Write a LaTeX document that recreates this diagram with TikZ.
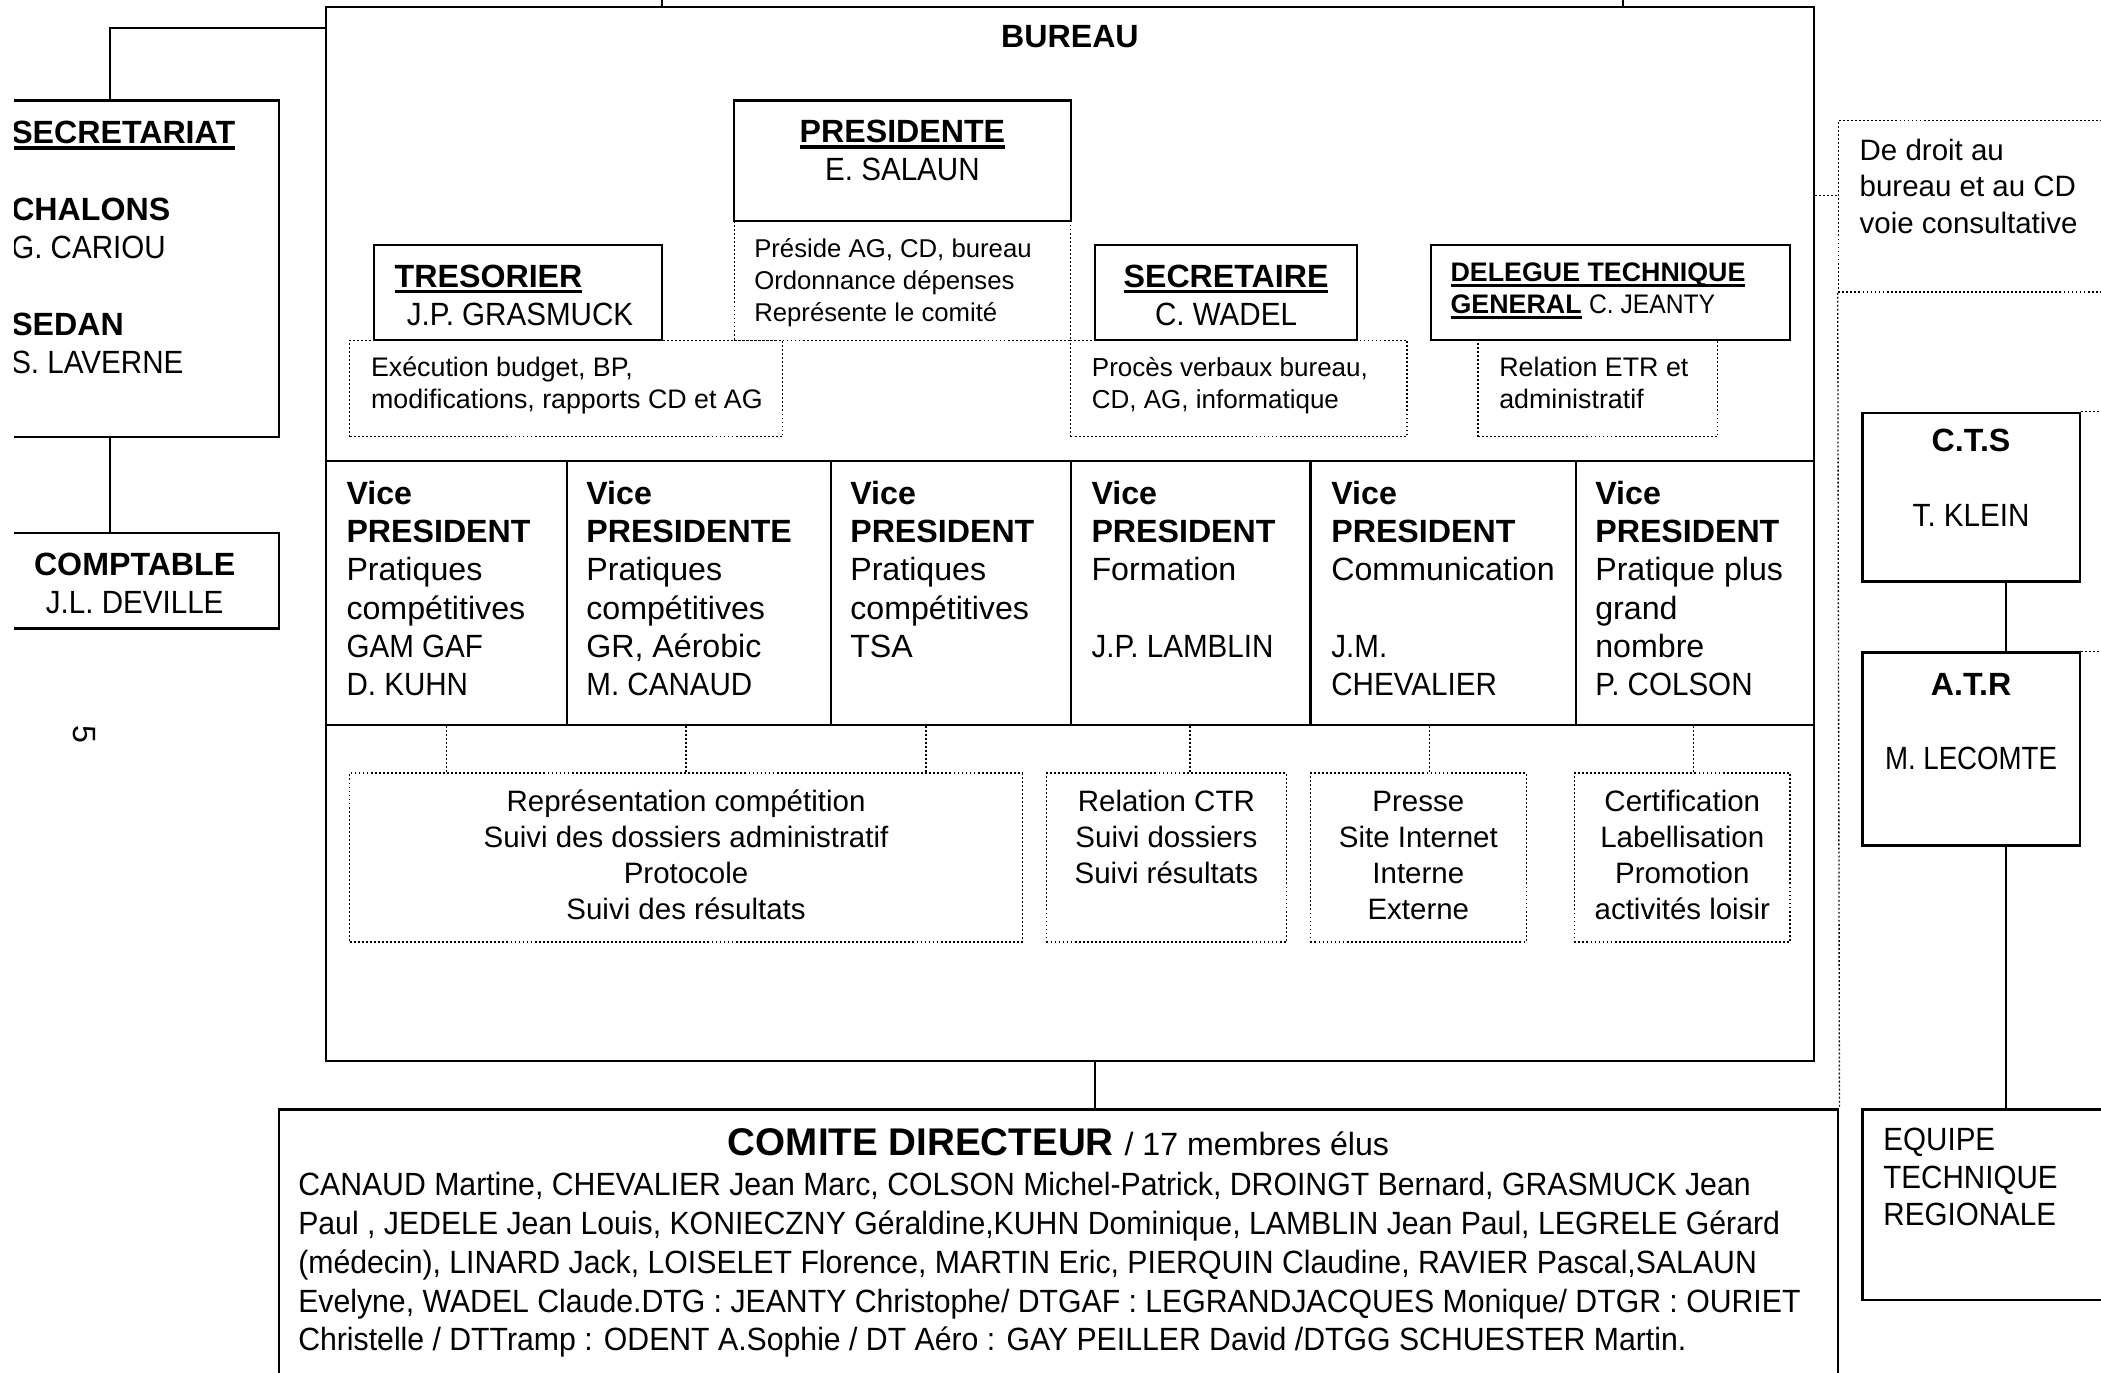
\documentclass[tikz,border=0pt]{standalone}
\usepackage{fontspec}
\setmainfont{Liberation Sans}
\newfontfamily\capfont[FakeStretch=0.92]{Liberation Sans}
\newfontfamily\tightcap[FakeStretch=0.86]{Liberation Sans}
\newfontfamily\listfont[FakeStretch=0.94]{Liberation Sans}
\usetikzlibrary{positioning,fit}
\newcommand{\undl}[1]{\setbox0\hbox{\textbf{#1}}\rlap{\rule[-2.3pt]{\wd0}{1.2pt}}\box0\relax}

\begin{document}
\begin{tikzpicture}[x=0.5pt,y=-0.5pt,
  box/.style={draw, line width=0.8pt, inner sep=0pt},
  dotbox/.style={draw, line width=0.5pt, dash pattern=on 0.7pt off 0.8pt, inner sep=0pt},
  link/.style={line width=0.8pt},
  dotlink/.style={line width=0.5pt, dash pattern=on 0.7pt off 0.8pt},
  txt/.style={inner sep=0pt, align=left, font=\fontsize{12}{14.3}\selectfont},
  small/.style={inner sep=0pt, align=left, font=\fontsize{10}{12}\selectfont},
  task/.style={inner sep=0pt, align=center, font=\fontsize{11}{13.4}\selectfont}]
\useasboundingbox (0,0) rectangle (1568,1024);
\clip (10.5,0) rectangle (1568,1024);

%Boxes
\node[box, fit={(243,5) (1354,792)}] (bureau) {};
\node[box, fit={(-7,75) (208,326)}] (secbox) {};
\node[box, fit={(-7,398) (208,469)}] (compta) {};
\node[box, fit={(548,75) (799,165)}] (pres) {};
\node[dotbox, fit={(548,165) (799,254)}] (presD) {};
\node[box, fit={(279,183) (494,254)}] (treso) {};
\node[dotbox, fit={(261,254) (584,326)}] (tresoD) {};
\node[box, fit={(817,183) (1013,254)}] (secr) {};
\node[dotbox, fit={(799,254) (1050,326)}] (secrD) {};
\node[box, fit={(1068,183) (1336,254)}] (dtg) {};
\node[dotbox, fit={(1103,254) (1282,326)}] (dtgD) {};
\foreach \a/\b [count=\i] in {243/423,423/620,620/799,799/978,978/1176,1176/1354}
  \node[box, fit={(\a,344) (\b,541)}] (vp\i) {};
\node[dotbox, fit={(261,577) (763,703)}] (m1) {};
\node[dotbox, fit={(781,577) (960,703)}] (m2) {};
\node[dotbox, fit={(978,577) (1139,703)}] (m3) {};
\node[dotbox, fit={(1175,577) (1336,703)}] (m4) {};
\node[box, fit={(208,828) (1372,1040)}] (comite) {};
\node[dotbox, fit={(1372,90) (1600,218)}] (droit) {};
\node[box, fit={(1390,308) (1552,434)}] (cts) {};
\node[box, fit={(1390,487) (1552,631)}] (atr) {};
\node[box, fit={(1390,828) (1600,970)}] (etr) {};

%Straight Lines
\draw[link] (494,0) -- (494,0 |- bureau.north);
\draw[link] (1211,0) -- (1211,0 |- bureau.north);
\draw[link] (bureau.west |- 0,21) -| (82,0 |- secbox.north);
\draw[link] (82,0 |- secbox.south) -- (82,0 |- compta.north);
\draw[link] (817,0 |- bureau.south) -- (817,0 |- comite.north);
\draw[link] (1497,0 |- cts.south) -- (1497,0 |- atr.north);
\draw[link] (1497,0 |- atr.south) -- (1497,0 |- etr.north);
%Dotted Lines
\foreach \x/\v/\m in {333/1/1,512/2/1,691/3/1,888/4/2,1067/5/3,1264/6/4}
  \draw[dotlink] (\x,0 |- vp\v.south) -- (\x,0 |- m\m.north);
\draw[dotlink] (bureau.east |- 0,146) -- (droit.west |- 0,146);
\draw[dotlink] (droit.south west) -- (comite.north east);
\draw[dotlink] (cts.north east) -- (1600,0 |- cts.north east);
\draw[dotlink] (atr.north east) -- (1600,0 |- atr.north east);

% Text Node
\node[txt, font=\fontsize{12}{14.3}\selectfont\bfseries, anchor=base] (bureauT) at ([yshift=-15.5pt]bureau.north) {BUREAU};
\node[txt, anchor=north west] (secT) at (8,86.6) {\strut\undl{SECRETARIAT}\\[14.3pt]\textbf{CHALONS}\\{\capfont G. CARIOU}\\[14.3pt]\textbf{SEDAN}\\{\capfont S. LAVERNE}};
\node[txt, align=center, below=5.8pt of compta.north] (comptaT) {\strut\textbf{COMPTABLE}\\{\capfont J.L. DEVILLE}};
\node[txt, rotate=-90] (pnum) at (63,548) {5};
% Text Node
\node[txt, align=center, below=5.8pt of pres.north] (presT) {\strut\undl{PRESIDENTE}\\{\capfont E. SALAUN}};
\node[small, font=\fontsize{9.6}{12}\selectfont, below right=5.2pt and 7.5pt of presD.north west] (presDT) {\strut Préside AG, CD, bureau\\Ordonnance dépenses\\Représente le comité};
\node[txt, below right=5.8pt and 8pt of treso.north west] (tresoT) {\strut\undl{TRESORIER}\\\hspace*{4.5pt}{\capfont J.P. GRASMUCK}};
\node[small, below right=5.2pt and 8pt of tresoD.north west] (tresoDT) {\strut Exécution budget, BP,\\modifications, rapports CD et AG};
\node[txt, align=center, below=5.8pt of secr.north] (secrT) {\strut\undl{SECRETAIRE}\\{\capfont C. WADEL}};
\node[small, font=\fontsize{9.7}{12}\selectfont, below right=5.2pt and 8pt of secrD.north west] (secrDT) {\strut Procès verbaux bureau,\\CD, AG, informatique};
\node[small, below right=5.2pt and 7.5pt of dtg.north west] (dtgT) {\strut\undl{DELEGUE TECHNIQUE}\\\undl{GENERAL} {\capfont C. JEANTY}};
\node[small, below right=5.2pt and 8pt of dtgD.north west] (dtgDT) {\strut Relation ETR et\\administratif};
% Text Node
\node[txt, below right=6.3pt and 8pt of vp1.north west] (vp1T) {\strut\textbf{Vice}\\\textbf{PRESIDENT}\\Pratiques\\compétitives\\{\capfont GAM GAF}\\{\capfont D. KUHN}};
\node[txt, below right=6.3pt and 7.5pt of vp2.north west] (vp2T) {\strut\textbf{Vice}\\\textbf{PRESIDENTE}\\Pratiques\\compétitives\\GR, Aérobic\\{\capfont M. CANAUD}};
\node[txt, below right=6.3pt and 7.5pt of vp3.north west] (vp3T) {\strut\textbf{Vice}\\\textbf{PRESIDENT}\\Pratiques\\compétitives\\TSA};
\node[txt, below right=6.3pt and 8pt of vp4.north west] (vp4T) {\strut\textbf{Vice}\\\textbf{PRESIDENT}\\Formation\\[14.3pt]{\capfont J.P. LAMBLIN}};
\node[txt, below right=6.3pt and 8pt of vp5.north west] (vp5T) {\strut\textbf{Vice}\\\textbf{PRESIDENT}\\Communication\\[14.3pt]{\capfont J.M.}\\{\capfont CHEVALIER}};
\node[txt, below right=6.3pt and 7.5pt of vp6.north west] (vp6T) {\strut\textbf{Vice}\\\textbf{PRESIDENT}\\Pratique plus\\grand\\nombre\\{\capfont P. COLSON}};
% Text Node
\node[task, below=5pt of m1.north] (m1T) {\strut Représentation compétition\\Suivi des dossiers administratif\\Protocole\\Suivi des résultats};
\node[task, below=5pt of m2.north] (m2T) {\strut Relation CTR\\Suivi dossiers\\Suivi résultats};
\node[task, below=5pt of m3.north] (m3T) {\strut Presse\\Site Internet\\Interne\\Externe};
\node[task, below=5pt of m4.north] (m4T) {\strut Certification\\Labellisation\\Promotion\\activités loisir};
% Text Node
\node[inner sep=0pt, anchor=base] (cdT) at ([yshift=-17.65pt]comite.north) {\fontsize{14.4}{17}\selectfont\bfseries COMITE DIRECTEUR \fontsize{12}{14.3}\selectfont\mdseries / 17 membres élus};
\node[txt, font=\fontsize{12}{14.5}\listfont, below right=22.15pt and 7.5pt of comite.north west] (cdL) {\strut CANAUD Martine, CHEVALIER Jean Marc, COLSON Michel-Patrick, DROINGT Bernard, GRASMUCK Jean\\Paul , JEDELE Jean Louis, KONIECZNY Géraldine,KUHN Dominique, LAMBLIN Jean Paul, LEGRELE Gérard\\(médecin), LINARD Jack, LOISELET Florence, MARTIN Eric, PIERQUIN Claudine, RAVIER Pascal,SALAUN\\Evelyne, WADEL Claude.DTG : JEANTY Christophe/ DTGAF : LEGRANDJACQUES Monique/ DTGR : OURIET\\Christelle / DTTramp : ODENT A.Sophie / DT Aéro : GAY PEILLER David /DTGG SCHUESTER Martin.};
% Text Node
\node[txt, font=\fontsize{11}{13.5}\selectfont, below right=5.6pt and 8pt of droit.north west] (droitT) {\strut De droit au\\bureau et au CD\\voie consultative};
\node[txt, align=center, below=4.8pt of cts.north] (ctsT) {\strut\textbf{C.T.S}\\[13.7pt]{\capfont T. KLEIN}};
\node[txt, align=center, below=6.3pt of atr.north] (atrT) {\strut\textbf{A.T.R}\\[13.2pt]{\tightcap M. LECOMTE}};
\node[txt, font=\fontsize{12}{14}\capfont, below right=5.8pt and 8pt of etr.north west] (etrT) {\strut EQUIPE\\TECHNIQUE\\REGIONALE};
\end{tikzpicture}
\end{document}
